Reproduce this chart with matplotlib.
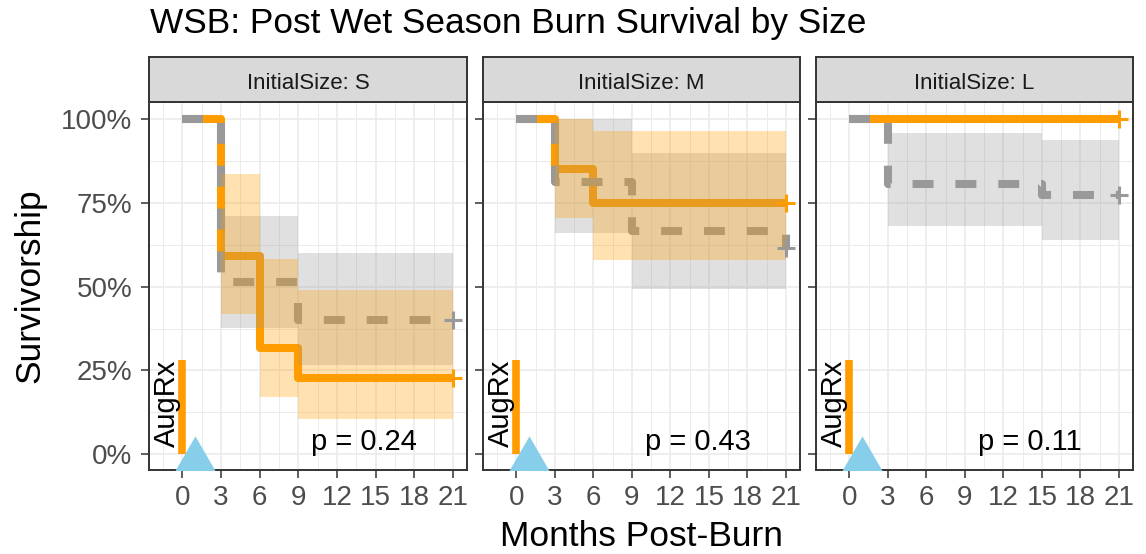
import matplotlib.pyplot as plt
import numpy as np

plt.rcParams['font.family'] = ['Liberation Sans', 'DejaVu Sans']

# Data
sizes = ['S', 'M', 'L']
p_values = ['0.24', '0.43', '0.11']
month_ticks = [0, 3, 6, 9, 12, 15, 18, 21]
pct_ticks = [0, 0.25, 0.5, 0.75, 1.0]
pct_labels = ['0%', '25%', '50%', '75%', '100%']

# orange (solid) curve: step times, survival, CI
orange_time = {'S': [0, 3, 6, 9, 21], 'M': [0, 3, 6, 21], 'L': [0, 21]}
orange_surv = {'S': [1, 0.591, 0.318, 0.227, 0.227], 'M': [1, 0.85, 0.75, 0.75], 'L': [1, 1]}
orange_low = {'S': [1, 0.417, 0.172, 0.105, 0.105], 'M': [1, 0.706, 0.581, 0.581], 'L': [1, 1]}
orange_high = {'S': [1, 0.836, 0.584, 0.491, 0.491], 'M': [1, 1.0, 0.965, 0.965], 'L': [1, 1]}

# grey (dashed) curve
grey_time = {'S': [0, 3, 9, 21], 'M': [0, 3, 9, 21], 'L': [0, 3, 15, 21]}
grey_surv = {'S': [1, 0.514, 0.40, 0.40], 'M': [1, 0.811, 0.666, 0.616], 'L': [1, 0.806, 0.773, 0.773]}
grey_low = {'S': [1, 0.377, 0.267, 0.267], 'M': [1, 0.661, 0.494, 0.494], 'L': [1, 0.681, 0.639, 0.639]}
grey_high = {'S': [1, 0.711, 0.601, 0.601], 'M': [1, 1.0, 0.900, 0.900], 'L': [1, 0.958, 0.937, 0.937]}

aug_month = 0
aug_height = 0.28
burn_month = 1

ORANGE = '#FF9D00'
GREY = '#999999'
SKY = '#87CEEB'
DARK = '#333333'

W, H = 1146, 554
fig = plt.figure(figsize=(W / 100, H / 100), dpi=100)


def frac(x0, y0, x1, y1):
    return [x0 / W, 1 - y1 / H, (x1 - x0) / W, (y1 - y0) / H]


panel_x = [(149, 467), (483, 800), (816, 1133)]
triangle = [(-1, -0.866), (1, -0.866), (0, 0.866)]

for i, size in enumerate(sizes):
    x0, x1 = panel_x[i]
    ax = fig.add_axes(frac(x0, 102, x1, 470))
    strip = fig.add_axes(frac(x0, 57.5, x1, 102))

    # curves (ribbons go on top, semi-transparent)
    ax.step(orange_time[size], orange_surv[size], where='post', color=ORANGE, lw=5.8,
            solid_joinstyle='round', solid_capstyle='butt', zorder=3)
    ax.step(grey_time[size], grey_surv[size], where='post', color=GREY, lw=5.8,
            linestyle=(0, (2.6, 2.72)), dash_capstyle='butt', dash_joinstyle='round', zorder=4)
    ax.fill_between(grey_time[size], grey_low[size], grey_high[size], step='post',
                    color=GREY, alpha=0.3, lw=0, zorder=5)
    ax.fill_between(orange_time[size], orange_low[size], orange_high[size], step='post',
                    color=ORANGE, alpha=0.3, lw=0, zorder=6)

    # censor marks
    ax.plot(grey_time[size][-1], grey_surv[size][-1], marker='+', ms=13, mew=2.2, color=GREY, zorder=7)
    ax.plot(orange_time[size][-1], orange_surv[size][-1], marker='+', ms=13, mew=2.2, color=ORANGE, zorder=7)

    # treatment / burn markers
    ax.vlines(aug_month, 0, aug_height, color=ORANGE, lw=5.5, zorder=3)
    ax.text(-0.55, 0.023, 'AugRx', rotation=90, rotation_mode='anchor', ha='left', va='baseline',
            fontsize=21, color='black', zorder=8)
    ax.plot(burn_month, 0, marker=triangle, ms=30.2, color=SKY, mew=0, zorder=8)

    ax.text(10, 0.013, 'p = ' + p_values[i], fontsize=21, ha='left', va='baseline', color='black', zorder=8)

    ax.set_xlim(-2.6, 22.1)
    ax.set_ylim(-0.047, 1.051)
    ax.set_xticks(month_ticks)
    ax.set_xticks(np.arange(-1.5, 22, 3), minor=True)
    ax.set_yticks(pct_ticks)
    ax.set_yticks([0.125, 0.375, 0.625, 0.875], minor=True)
    ax.set_yticklabels(pct_labels)
    ax.grid(which='major', color='#EBEBEB', lw=1.2)
    ax.grid(which='minor', color='#EBEBEB', lw=0.7)
    ax.set_axisbelow(True)
    for sp in ax.spines.values():
        sp.set_color(DARK)
        sp.set_linewidth(1.4)
    ax.tick_params(which='major', length=5.5, width=1.1, color=DARK, labelsize=20, labelcolor='#4D4D4D')
    ax.tick_params(axis='x', which='major', pad=5.5)
    ax.tick_params(axis='y', which='major', pad=6.5)
    ax.tick_params(which='minor', length=0)
    if i > 0:
        ax.tick_params(axis='y', labelleft=False)

    strip.set_facecolor('#D9D9D9')
    strip.set_xticks([])
    strip.set_yticks([])
    for sp in strip.spines.values():
        sp.set_color(DARK)
        sp.set_linewidth(1.4)
    strip.text(0.5, (102 - 89.3) / 44.5, 'InitialSize: ' + size, transform=strip.transAxes,
               ha='center', va='baseline', fontsize=16, color='#1A1A1A')

fig.text(150 / W, 1 - 33.5 / H, 'WSB: Post Wet Season Burn Survival by Size', fontsize=25.4,
         ha='left', va='baseline', color='black')
fig.text(641 / W, 1 - 545.5 / H, 'Months Post-Burn', fontsize=25.5, ha='center', va='baseline', color='black')
fig.text(29.7 / W, 1 - 286 / H, 'Survivorship', fontsize=25.5, rotation=90, ha='center', va='center',
         color='black')

fig.savefig('out.png', dpi=100)
